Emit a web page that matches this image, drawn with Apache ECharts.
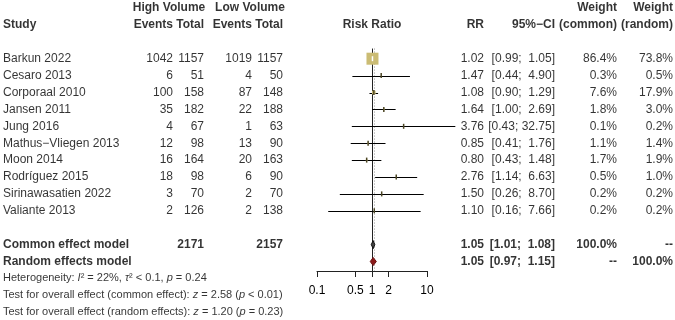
<!DOCTYPE html>
<html>
<head>
<meta charset="utf-8">
<script src="https://cdn.jsdelivr.net/npm/echarts@6/dist/echarts.min.js"></script>
<style>html,body{margin:0;padding:0;background:#fff}#chart{width:675px;height:320px}</style>
</head>
<body>
<div id="chart"></div>
<script>
var studies = ['Barkun 2022', 'Cesaro 2013', 'Corporaal 2010', 'Jansen 2011', 'Jung 2016',
  'Mathus\u2212Vliegen 2013', 'Moon 2014', 'Rodríguez 2015', 'Sirinawasatien 2022', 'Valiante 2013'];
var hvEvents = [1042, 6, 100, 35, 4, 12, 16, 18, 3, 2];
var hvTotal = [1157, 51, 158, 182, 67, 98, 164, 98, 70, 126];
var lvEvents = [1019, 4, 87, 22, 1, 13, 20, 6, 2, 2];
var lvTotal = [1157, 50, 148, 188, 63, 90, 163, 90, 70, 138];
var rr = [1.02, 1.47, 1.08, 1.64, 3.76, 0.85, 0.80, 2.76, 1.50, 1.10];
var lower = [0.99, 0.44, 0.90, 1.00, 0.43, 0.41, 0.43, 1.14, 0.26, 0.16];
var upper = [1.05, 4.90, 1.29, 2.69, 32.75, 1.76, 1.48, 6.63, 8.70, 7.66];
var wCommon = [86.4, 0.3, 7.6, 1.8, 0.1, 1.1, 1.7, 0.5, 0.2, 0.2];
var wRandom = [73.8, 0.5, 17.9, 3.0, 0.2, 1.4, 1.9, 1.0, 0.2, 0.2];

var models = ['Common effect model', 'Random effects model'];
var modelRR = [1.05, 1.05];
var modelLower = [1.01, 0.97];
var modelUpper = [1.08, 1.15];
var totalHV = 2171, totalLV = 2157;
var xTicks = [0.1, 0.5, 1, 2, 10];

// layout: row index -> pixel y = rowTop + rowH*row
var rowTop = 8, rowH = 16.9, axisY = 271;
var studyRow0 = 3, modelRow0 = 14;
var col = {study: 3, hvE: 173, hvT: 204, lvE: 252, lvT: 283, rr: 484, ci: 555, wc: 617, wr: 673};
var font = '"Liberation Sans", Arial, Helvetica, sans-serif';

function fmtCI(lo, up) {
  return '[' + lo.toFixed(2) + ';' + (up < 10 ? '  ' : ' ') + up.toFixed(2) + ']';
}

var cells = [];
function cell(x, row, text, align, bold) {
  cells.push({value: [x, row], text: text, label: {align: align, fontWeight: bold ? 'bold' : 'normal'}});
}

cell(169, 0, 'High Volume', 'center', true);
cell(250, 0, 'Low Volume', 'center', true);
cell(col.wc, 0, 'Weight', 'right', true);
cell(col.wr, 0, 'Weight', 'right', true);
cell(col.study, 1, 'Study', 'left', true);
cell(col.hvE, 1, 'Events', 'right', true);
cell(col.hvT, 1, 'Total', 'right', true);
cell(col.lvE, 1, 'Events', 'right', true);
cell(col.lvT, 1, 'Total', 'right', true);
cell(372, 1, 'Risk Ratio', 'center', true);
cell(col.rr, 1, 'RR', 'right', true);
cell(col.ci, 1, '95%\u2212CI', 'right', true);
cell(col.wc, 1, '(common)', 'right', true);
cell(col.wr, 1, '(random)', 'right', true);

studies.forEach(function (s, i) {
  var r = studyRow0 + i;
  cell(col.study, r, s, 'left');
  cell(col.hvE, r, String(hvEvents[i]), 'right');
  cell(col.hvT, r, String(hvTotal[i]), 'right');
  cell(col.lvE, r, String(lvEvents[i]), 'right');
  cell(col.lvT, r, String(lvTotal[i]), 'right');
  cell(col.rr, r, rr[i].toFixed(2), 'right');
  cell(col.ci, r, fmtCI(lower[i], upper[i]), 'right');
  cell(col.wc, r, wCommon[i].toFixed(1) + '%', 'right');
  cell(col.wr, r, wRandom[i].toFixed(1) + '%', 'right');
});

models.forEach(function (m, i) {
  var r = modelRow0 + i;
  cell(col.study, r, m, 'left', true);
  if (i === 0) {
    cell(col.hvT, r, String(totalHV), 'right', true);
    cell(col.lvT, r, String(totalLV), 'right', true);
  }
  cell(col.rr, r, modelRR[i].toFixed(2), 'right', true);
  cell(col.ci, r, fmtCI(modelLower[i], modelUpper[i]), 'right', true);
  cell(col.wc, r, i === 0 ? '100.0%' : '--', 'right', true);
  cell(col.wr, r, i === 0 ? '--' : '100.0%', 'right', true);
});

cell(col.study, 16, '{n|Heterogeneity: }{i|I}{n|² = 22%, }{i|τ}{n|² < 0.1, }{i|p}{n| = 0.24}', 'left');
cell(col.study, 17, '{n|Test for overall effect (common effect): }{i|z}{n| = 2.58 (}{i|p}{n| < 0.01)}', 'left');
cell(col.study, 18, '{n|Test for overall effect (random effects): }{i|z}{n| = 1.20 (}{i|p}{n| = 0.23)}', 'left');

var sqMax = 12;
var squares = studies.map(function (s, i) {
  return {value: [rr[i], studyRow0 + i], symbolSize: sqMax * Math.sqrt(wCommon[i] / wCommon[0])};
});
var ticks = studies.map(function (s, i) {
  return {value: [rr[i], studyRow0 + i], itemStyle: {color: i === 0 ? '#fff' : '#4a4423'}};
});

var plotBottomRow = (axisY - rowTop) / rowH;
var topRow = -rowTop / rowH;
var refTop = 2.4;

var chart = echarts.init(document.getElementById('chart'));
chart.setOption({
  animation: false,
  grid: [
    {left: 0, right: 0, top: 0, bottom: 0},
    {left: 317, width: 110, top: 0, height: axisY}
  ],
  xAxis: [
    {gridIndex: 0, type: 'value', min: 0, max: 675, show: false},
    {gridIndex: 1, type: 'log', logBase: 10, min: 0.1, max: 10, position: 'bottom',
      axisLine: {show: true, onZero: false, lineStyle: {color: '#222', width: 1}},
      axisTick: {show: true, length: 6, inside: false, customValues: xTicks, lineStyle: {color: '#222'}},
      axisLabel: {show: true, margin: 14, customValues: xTicks, color: '#000', fontSize: 12, fontFamily: font,
        formatter: function (v) { return String(v); }},
      splitLine: {show: false}, minorTick: {show: false}}
  ],
  yAxis: [
    {gridIndex: 0, type: 'value', inverse: true, min: topRow, max: (320 - rowTop) / rowH, show: false},
    {gridIndex: 1, type: 'value', inverse: true, min: topRow, max: plotBottomRow, show: false}
  ],
  series: [
    // reference lines: solid at RR = 1, dotted at the common estimate
    {type: 'custom', xAxisIndex: 1, yAxisIndex: 1, silent: true, clip: false,
      data: [[1, refTop, plotBottomRow, 0], [modelRR[0], refTop, plotBottomRow, 1]],
      encode: {x: 0, y: [1, 2]},
      renderItem: function (params, api) {
        var a = api.coord([api.value(0), api.value(1)]);
        var b = api.coord([api.value(0), api.value(2)]);
        var dotted = api.value(3) === 1;
        var x = Math.round(a[0]) + (dotted ? 1.5 : 0.5);
        return {type: 'line', shape: {x1: x, y1: a[1], x2: x, y2: b[1]},
          style: {stroke: dotted ? '#999' : '#222', lineWidth: 1, lineDash: dotted ? [1, 2] : null}};
      }},
    {type: 'custom', xAxisIndex: 1, yAxisIndex: 1, silent: true, clip: false,
      data: studies.map(function (s, i) { return [lower[i], upper[i], studyRow0 + i]; }),
      encode: {x: [0, 1], y: 2},
      renderItem: function (params, api) {
        var a = api.coord([api.value(0), api.value(2)]);
        var b = api.coord([api.value(1), api.value(2)]);
        var y = Math.round(a[1]) + 0.5;
        return {type: 'line', shape: {x1: a[0], y1: y, x2: b[0], y2: y}, style: {stroke: '#000', lineWidth: 1}};
      }},
    {type: 'scatter', xAxisIndex: 1, yAxisIndex: 1, silent: true, symbol: 'rect', clip: false,
      data: squares, itemStyle: {color: '#cbbc74', opacity: 1}},
    {type: 'scatter', xAxisIndex: 1, yAxisIndex: 1, silent: true, symbol: 'rect', clip: false,
      symbolSize: [1.5, 5], data: ticks, itemStyle: {opacity: 1}},
    {type: 'custom', xAxisIndex: 1, yAxisIndex: 1, silent: true, clip: false,
      data: models.map(function (m, i) { return [modelLower[i], modelUpper[i], modelRR[i], modelRow0 + i]; }),
      encode: {x: [0, 1, 2], y: 3},
      renderItem: function (params, api) {
        var row = api.value(3);
        var l = api.coord([api.value(0), row]);
        var u = api.coord([api.value(1), row]);
        var t = api.coord([api.value(2), row - 0.24]);
        var b = api.coord([api.value(2), row + 0.24]);
        var red = params.dataIndex === 1;
        return {type: 'polygon', shape: {points: [[l[0] - 1, l[1]], [t[0], t[1]], [u[0] + 1, u[1]], [b[0], b[1]]]},
          style: {fill: red ? '#8b1a1a' : '#444', stroke: red ? '#6a1212' : '#111', lineWidth: 1}};
      }},
    {type: 'scatter', xAxisIndex: 0, yAxisIndex: 0, silent: true, symbolSize: 0,
      data: cells,
      label: {show: true, position: 'inside', verticalAlign: 'middle', color: '#000',
        fontFamily: font, fontSize: 12,
        formatter: function (p) { return p.data.text; },
        rich: {
          n: {fontFamily: font, fontSize: 11, color: '#000'},
          i: {fontFamily: font, fontSize: 11, fontStyle: 'italic', color: '#000'}
        }}}
  ]
});
</script>
</body>
</html>
